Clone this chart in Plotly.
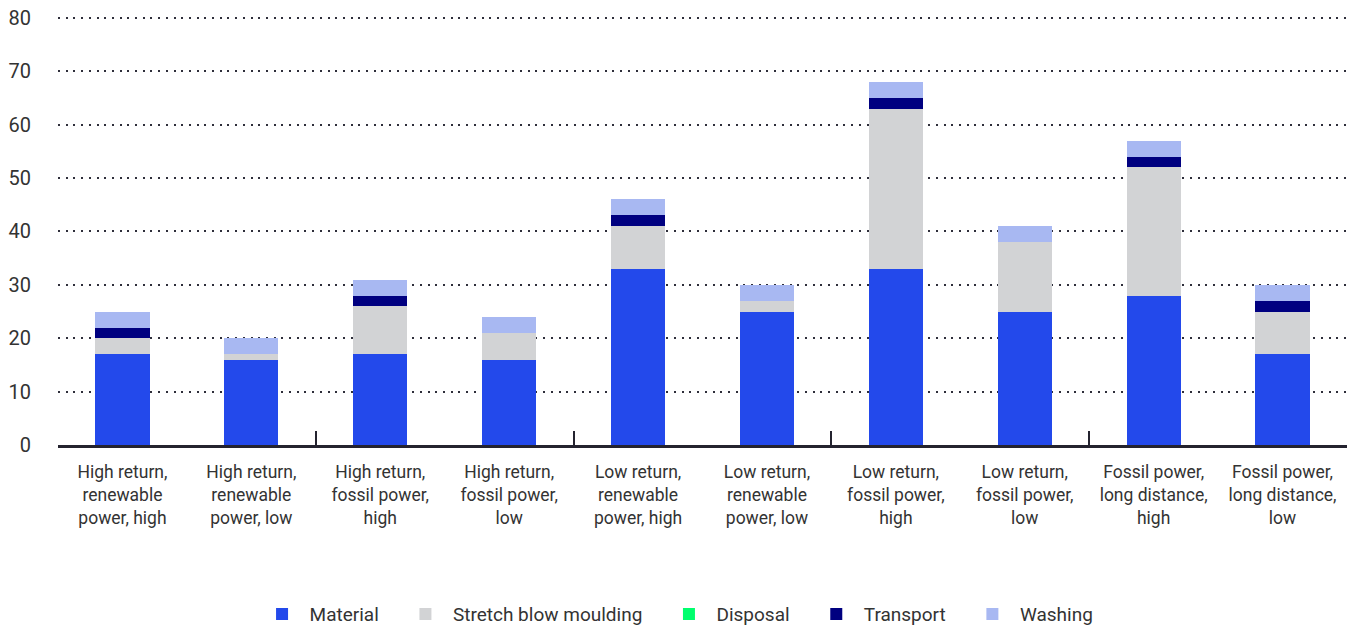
import plotly.graph_objects as go

# Scenario labels along the x axis
categories = [
    "High return,<br>renewable<br>power, high",
    "High return,<br>renewable<br>power, low",
    "High return,<br>fossil power,<br>high",
    "High return,<br>fossil power,<br>low",
    "Low return,<br>renewable<br>power, high",
    "Low return,<br>renewable<br>power, low",
    "Low return,<br>fossil power,<br>high",
    "Low return,<br>fossil power,<br>low",
    "Fossil power,<br>long distance,<br>high",
    "Fossil power,<br>long distance,<br>low",
]

# Emission contributions per life-cycle stage
material = [17, 16, 17, 16, 33, 25, 33, 25, 28, 17]
stretch_blow_moulding = [3, 1, 9, 5, 8, 2, 30, 13, 24, 8]
disposal = [0, 0, 0, 0, 0, 0, 0, 0, 0, 0]
transport = [2, 0, 2, 0, 2, 0, 2, 0, 2, 2]
washing = [3, 3, 3, 3, 3, 3, 3, 3, 3, 3]

y_ticks = [0, 10, 20, 30, 40, 50, 60, 70, 80]
group_boundaries = [1.5, 3.5, 5.5, 7.5]

series = [
    ("Material", material, "#2349EB"),
    ("Stretch blow moulding", stretch_blow_moulding, "#D2D3D5"),
    ("Disposal", disposal, "#00FF6E"),
    ("Transport", transport, "#000080"),
    ("Washing", washing, "#A8B8F2"),
]

# trailing no-break spaces widen the gap between legend entries
pad = "\u00a0" * 3

x_pos = list(range(len(categories)))
fig = go.Figure()
for name, values, color in series:
    fig.add_trace(go.Bar(
        x=x_pos, y=values, name=name + pad,
        marker=dict(color=color, line=dict(width=0)),
    ))

# Invisible helper so the overlay axis carrying group ticks is drawn
fig.add_trace(go.Scatter(
    x=[-0.5, len(categories) - 0.5], y=[0, 0], xaxis="x2",
    mode="lines", line=dict(width=0), opacity=0,
    showlegend=False, hoverinfo="skip",
))

font_family = "Roboto, 'Noto Sans', sans-serif"
fig.update_layout(
    barmode="stack",
    bargap=0.58,
    width=1356, height=630,
    margin=dict(l=58, r=9, t=15, b=185, autoexpand=False),
    paper_bgcolor="white",
    plot_bgcolor="white",
    font=dict(family=font_family, color="#333333"),
    showlegend=True,
    legend=dict(
        orientation="h", x=0.4853, xanchor="center", y=-0.349, yanchor="top",
        font=dict(size=19, color="#333333"),
        itemwidth=45, traceorder="normal",
    ),
    xaxis=dict(
        range=[-0.5, len(categories) - 0.5],
        tickmode="array", tickvals=x_pos, ticktext=categories,
        ticks="", showgrid=False, zeroline=False,
        showline=True, linecolor="#24232F", linewidth=3,
        tickfont=dict(size=17.5, color="#333333"),
        ticklabelstandoff=9,
    ),
    xaxis2=dict(
        overlaying="x", anchor="y", side="bottom",
        range=[-0.5, len(categories) - 0.5],
        tickmode="array", tickvals=group_boundaries,
        ticks="inside", ticklen=14, tickwidth=2, tickcolor="#24232F",
        showticklabels=False, showgrid=False, zeroline=False, showline=False,
    ),
    yaxis=dict(
        range=[0, 80.56],
        tickmode="array", tickvals=y_ticks,
        showgrid=True, gridcolor="#2E2E3A", gridwidth=2, griddash="2px,5.7px",
        zeroline=False, showline=False, ticks="",
        tickfont=dict(size=20, color="#333333"),
        ticklabelstandoff=26,
    ),
)

fig.write_html("out.html")
